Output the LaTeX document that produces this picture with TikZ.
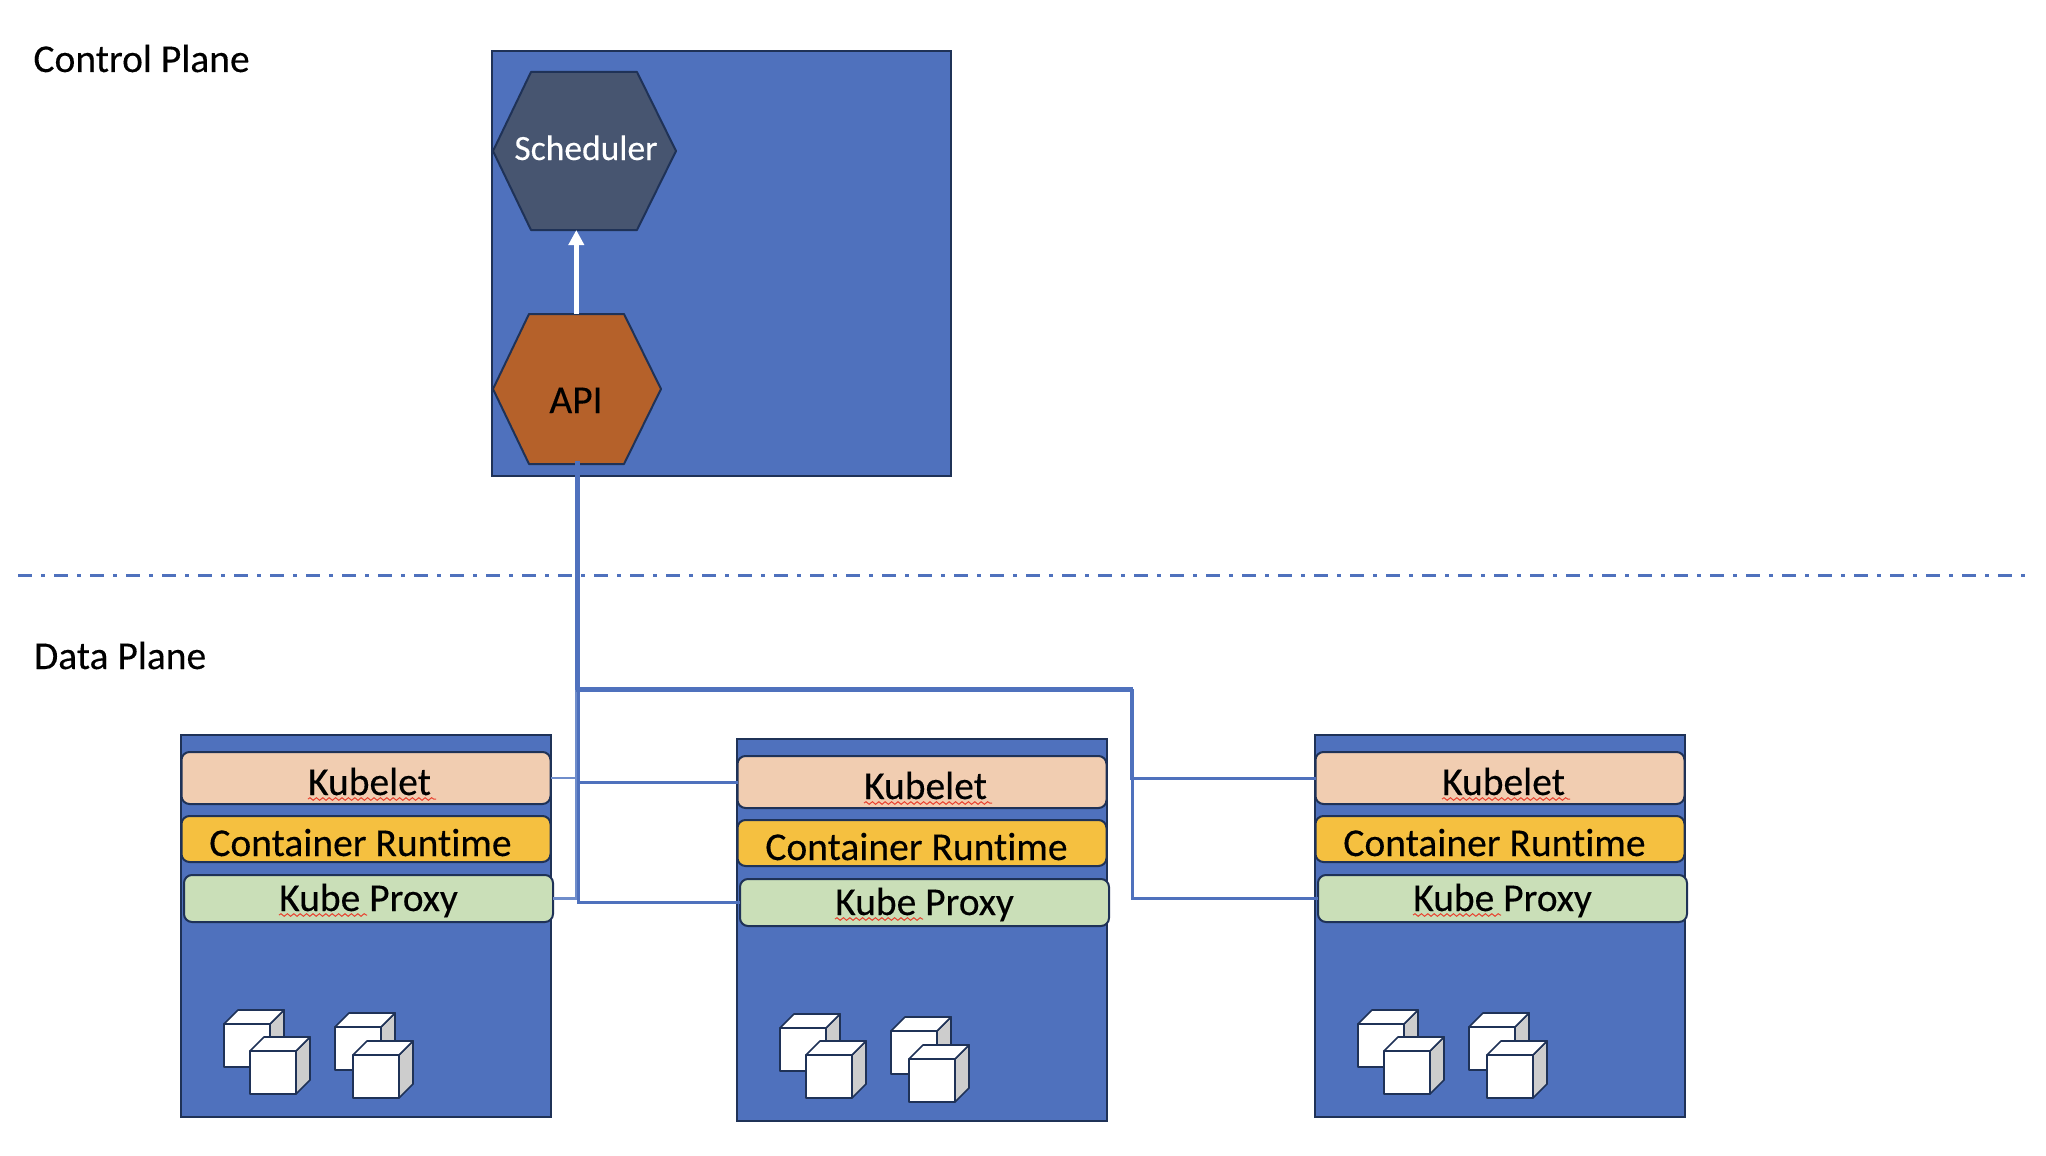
\documentclass[tikz,border=0pt]{standalone}
\usepackage{fontspec}
\setmainfont{Carlito}[Ligatures=CommonOff,FakeBold=0.25]
\usetikzlibrary{arrows.meta,decorations.pathmorphing}
\definecolor{bluefill}{HTML}{4F71BD}
\definecolor{edgedark}{HTML}{1F3257}
\definecolor{slate}{HTML}{475570}
\definecolor{rust}{HTML}{B5612A}
\definecolor{peach}{HTML}{F1CDB1}
\definecolor{amber}{HTML}{F5C040}
\definecolor{sage}{HTML}{CADFB8}
\definecolor{cubeside}{HTML}{CDCDCD}
\definecolor{squig}{HTML}{E8412F}
\definecolor{stubblue}{HTML}{6F8DCB}
\tikzset{
  x=1pt,y=-1pt,
  panel/.style={draw=edgedark,line width=2.2pt,fill=bluefill,rectangle,inner sep=0pt,outer sep=0pt,anchor=north west},
  bar/.style={draw=edgedark,line width=2pt,rectangle,rounded corners=8pt,inner sep=0pt,outer sep=0pt,anchor=north west,minimum width=369pt},
  hexface/.style={draw=edgedark,line width=2pt,line join=round},
  hexbox/.style={rectangle,inner sep=0pt,outer sep=0pt,anchor=north west},
  txt/.style={inner sep=0pt,outer sep=0pt,anchor=base,font=\fontsize{39.5}{47}\selectfont,text=black},
  plain/.style={inner sep=0pt,outer sep=0pt,anchor=base west,font=\fontsize{39.5}{47}\selectfont,text=black},
  link/.style={draw=bluefill,line width=3pt,shorten <=-3pt},
  stub/.style={draw=stubblue,line width=2.4pt,shorten <=-3pt},
  divider/.style={draw=bluefill,line width=3pt,dash pattern=on 14pt off 9pt on 4pt off 9pt},
  wavy/.style={draw=squig,line width=1pt,decorate,decoration={snake,amplitude=1.3pt,segment length=6.4pt}},
  cubeedge/.style={draw=edgedark,line width=1.7pt,line join=round},
}
\newcommand{\cubeshape}[2]{%
  \filldraw[cubeedge,fill=cubeside] (#1+46,#2) -- (#1+60,#2-14) -- (#1+60,#2+29) -- (#1+46,#2+43) -- cycle;
  \filldraw[cubeedge,fill=white] (#1,#2) -- (#1+14,#2-14) -- (#1+60,#2-14) -- (#1+46,#2) -- cycle;
  \filldraw[cubeedge,fill=white] (#1,#2) rectangle (#1+46,#2+43);
}
\newcommand{\workernode}[3]{%
  \begin{scope}[shift={(#2,#3)}]
    \node[panel,minimum width=370pt,minimum height=382pt] (#1box) at (181,735) {};
    \node[bar,fill=peach,minimum height=52pt] (#1k) at (181.5,752) {};
    \node[bar,fill=amber,minimum height=46pt] (#1c) at (181.5,816) {};
    \node[bar,fill=sage,minimum height=47pt] (#1p) at (184,875) {};
    \node[txt] (#1kt) at (369.5,795) {Kubelet};
    \node[txt] (#1ct) at (360.5,856) {Container Runtime};
    \node[txt] (#1pt) at (368.5,911) {Kube Proxy};
    \draw[wavy] (308,799) -- (436,799);
    \draw[wavy] (279,915) -- (367,915);
    \cubeshape{224}{1024}
    \cubeshape{250}{1051}
    \cubeshape{335}{1027}
    \cubeshape{353}{1055}
  \end{scope}%
}
\begin{document}
\begin{tikzpicture}
\useasboundingbox (0,0) rectangle (2046,1156);
% control plane
\node[panel,minimum width=459pt,minimum height=425pt] (cp) at (492,51) {};
\filldraw[hexface,fill=slate] (493,151) -- (531,72) -- (637,72) -- (676,151) -- (637,230) -- (531,230) -- cycle;
\node[hexbox,minimum width=183pt,minimum height=158pt] (sched) at (493,72) {};
\node[txt,text=white,font=\fontsize{35.5}{42}\selectfont] (schedt) at (586,160) {Scheduler};
\filldraw[hexface,fill=rust] (493,389) -- (529,314) -- (624,314) -- (661,389) -- (624,464) -- (529,464) -- cycle;
\node[hexbox,minimum width=168pt,minimum height=150pt] (api) at (493,314) {};
\node[txt] (apit) at (576,413) {API};
\draw[draw=white,line width=5pt,-{Triangle[width=15pt,length=15pt]}] ([xshift=-0.7pt]api.north) -- ([xshift=-0.7pt]api.north |- sched.south);
% labels
\node[plain] (cpl) at (33.5,72) {Control Plane};
\node[plain] (dpl) at (34,669) {Data Plane};
% divider
\coordinate (dl) at (18,575);
\coordinate (dr) at (2026,575);
\draw[divider] (dl) -- (dr);
% workers
\workernode{a}{0}{0}
\workernode{b}{556}{4}
\workernode{c}{1134}{0}
% connectors
\coordinate (busleft) at (1131.3,688.5);
\coordinate (busright) at (1132.5,690);
\draw[stub] ([xshift=-1pt]api.south) |- (ak.east);
\draw[stub] ([xshift=-1pt]api.south) |- (ap.east);
\draw[link] ([xshift=1pt]api.south) |- (bk.west);
\draw[link] ([xshift=1pt]api.south) |- (bp.west);
\draw[link] ([xshift=-0.5pt]api.south) |- (busleft) -- (busleft |- ck.west) -- (ck.west);
\draw[link] ([xshift=0.5pt]api.south) |- (busright) -- (busright |- cp.west) -- (cp.west);
\end{tikzpicture}
\end{document}
